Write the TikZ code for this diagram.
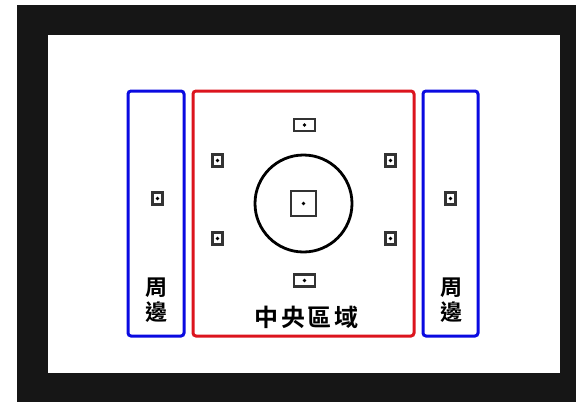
\documentclass[tikz,border=0pt]{standalone}
\usepackage{fontspec}
\newfontfamily\cjk{Noto Sans CJK TC}[BoldFont={Noto Sans CJK TC Bold}]
\usetikzlibrary{positioning}

\definecolor{framegray}{RGB}{22,22,22}
\definecolor{zoneblue}{RGB}{10,10,225}
\definecolor{zonered}{RGB}{220,20,30}

\tikzset{
  zone/.style={draw=#1, line width=3pt, rounded corners=3pt, inner sep=0pt},
  afpoint/.style={draw=black!80, line width=2.4pt, inner sep=0pt,
    path picture={\fill[black] (path picture bounding box.center) circle (1.8pt);}},
  wide/.style={afpoint, minimum width=21pt, minimum height=12pt},
  tall/.style={afpoint, minimum width=10pt, minimum height=12pt},
  zonetext/.style={font=\cjk\bfseries\fontsize{22}{25.5}\selectfont, align=center}
}

\begin{document}
\begin{tikzpicture}[x=1pt,y=-1pt]
\useasboundingbox (0,0) rectangle (576,402);
% viewfinder frame
\fill[framegray] (17,5) rectangle (576,402);
\fill[white] (48,35) rectangle (560,373);

% zones
\node[zone=zoneblue, minimum width=56pt, minimum height=245pt] (leftzone) at (156,213.5) {};
\node[zone=zonered, minimum width=221pt, minimum height=245pt] (midzone) at (303.5,213.5) {};
\node[zone=zoneblue, minimum width=55pt, minimum height=245pt] (rightzone) at (450.5,213.5) {};

% centre ring and centre point
\node[circle, draw, line width=2.8pt, minimum size=97pt] (ring) at (303.5,203.5) {};
\node[afpoint, minimum size=25pt] (centre) at (ring.center) {};

% outer AF points
\node foreach \name/\y in {top/125,bottom/280.5} (\name) at (304.5,\y) [wide] {};
\node foreach \name/\x/\y in {ul/217.5/160.5,ll/217.5/238.5,ur/390.5/160.5,lr/390.5/238.5,
  lp/157.5/198.5,rp/450.5/198.5} (\name) at (\x,\y) [tall] {};

% labels
\node[zonetext] (lefttext) at (156,300) {周\\邊};
\node[zonetext] (righttext) at (451,300) {周\\邊};
\node[zonetext, font=\cjk\bfseries\fontsize{24}{26}\selectfont\addfontfeature{LetterSpace=12}] (midtext) at (306.5,317) {中央區域};
\end{tikzpicture}
\end{document}
